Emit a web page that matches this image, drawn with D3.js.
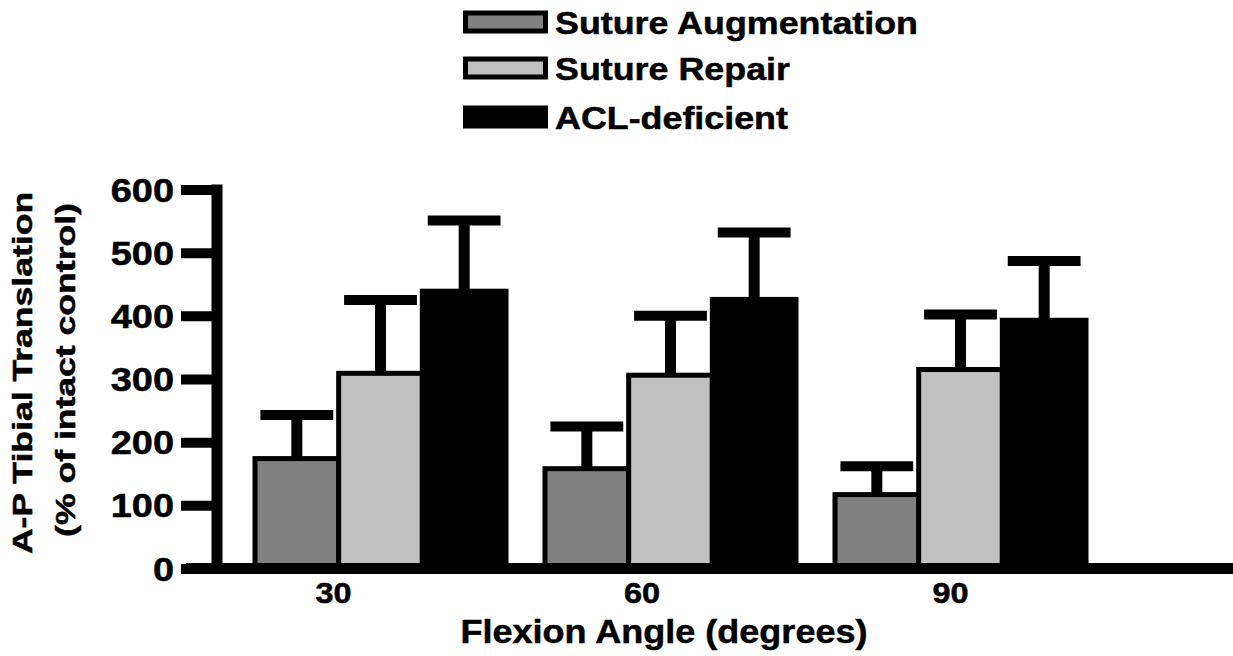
<!DOCTYPE html>
<html>
<head>
<meta charset="utf-8">
<script src="https://cdn.jsdelivr.net/npm/d3@7"></script>
<style>
  html, body { margin: 0; padding: 0; background: #ffffff; }
  svg { display: block; }
  text { font-family: "Liberation Sans", Arial, Helvetica, sans-serif; font-weight: bold; fill: #000; stroke: #000; stroke-width: 0.5px; }
</style>
</head>
<body>
<svg id="chart" width="1233" height="656"></svg>
<script>
// Flexion angles (x categories) and treatment groups
const categories = ["30", "60", "90"];
const series = ["Suture Augmentation", "Suture Repair", "ACL-deficient"];

// Mean A-P tibial translation (% of intact control) and SD per group
const meanAugmentation = [174, 158, 117];
const sdAugmentation   = [69, 67, 45];
const meanRepair       = [309, 306, 315];
const sdRepair         = [116, 94, 87];
const meanDeficient    = [439, 426, 393];
const sdDeficient      = [112, 106, 94];

const yTicks = [0, 100, 200, 300, 400, 500, 600];

const yTitle = ["A-P Tibial Translation", "(% of intact control)"];
const xTitle = "Flexion Angle (degrees)";

// Table of rows for drawing
const means = [meanAugmentation, meanRepair, meanDeficient];
const sds = [sdAugmentation, sdRepair, sdDeficient];
const rows = [];
categories.forEach((c, ci) => {
  series.forEach((s, si) => {
    rows.push({ category: c, series: s, mean: means[si][ci], sd: sds[si][ci] });
  });
});

const W = 1233, H = 656;
const svg = d3.select("#chart");

const y = d3.scaleLinear().domain([0, 600]).range([568.5, 189.5]);
const xGroup = d3.scaleBand().domain(categories).range([255, 1086]).paddingInner(0.1345).paddingOuter(0);
const xInner = d3.scaleBand().domain(series).range([0, xGroup.bandwidth()]).padding(0);
const xLabel = d3.scalePoint().domain(categories).range([333, 950]);
const fill = d3.scaleOrdinal().domain(series).range(["#808080", "#c0c0c0", "#000000"]);

const yAxisX = 217;

// Bars
const barX = d => xGroup(d.category) + xInner(d.series);
svg.append("g").attr("class", "bars")
  .selectAll("rect").data(rows).join("rect")
  .attr("x", barX)
  .attr("y", d => y(d.mean))
  .attr("width", xInner.bandwidth())
  .attr("height", d => y(0) - y(d.mean))
  .attr("fill", d => fill(d.series))
  .attr("stroke", "#000")
  .attr("stroke-width", 5);

// Error bars (upper only)
const eb = svg.append("g").attr("class", "errorbars");
const capW = xInner.bandwidth() * 0.87;
eb.selectAll("line.stem").data(rows).join("line")
  .attr("class", "stem")
  .attr("x1", d => barX(d) + xInner.bandwidth() / 2)
  .attr("x2", d => barX(d) + xInner.bandwidth() / 2)
  .attr("y1", d => y(d.mean))
  .attr("y2", d => y(d.mean + d.sd))
  .attr("stroke", "#000").attr("stroke-width", 11);
eb.selectAll("line.cap").data(rows).join("line")
  .attr("class", "cap")
  .attr("x1", d => barX(d) + xInner.bandwidth() / 2 - capW / 2)
  .attr("x2", d => barX(d) + xInner.bandwidth() / 2 + capW / 2)
  .attr("y1", d => y(d.mean + d.sd))
  .attr("y2", d => y(d.mean + d.sd))
  .attr("stroke", "#000").attr("stroke-width", 10);

// Y axis
const yAxisG = svg.append("g")
  .attr("transform", `translate(${yAxisX},0)`)
  .call(d3.axisLeft(y).tickValues(yTicks).tickSize(36).tickPadding(0));
yAxisG.select(".domain").remove();
yAxisG.selectAll(".tick line").attr("stroke", "#000").attr("stroke-width", 10);
const ySx = 1.15;
yAxisG.selectAll(".tick text")
  .attr("font-size", 33)
  .attr("x", -43 / ySx)
  .attr("dy", "0.35em")
  .attr("transform", `scale(${ySx},1)`);
svg.append("line")
  .attr("x1", yAxisX).attr("x2", yAxisX)
  .attr("y1", y(600) - 5).attr("y2", y(0))
  .attr("stroke", "#000").attr("stroke-width", 11);

// X axis baseline
svg.append("line")
  .attr("x1", yAxisX - 31).attr("x2", W)
  .attr("y1", y(0)).attr("y2", y(0))
  .attr("stroke", "#000").attr("stroke-width", 11);

// X tick labels
const xSx = 1.12;
const xAxisG = svg.append("g")
  .attr("transform", `translate(0,${y(0)})`)
  .call(d3.axisBottom(xLabel).tickSize(0));
xAxisG.select(".domain").remove();
xAxisG.selectAll(".tick text")
  .attr("font-size", 29)
  .attr("y", 35).attr("dy", 0)
  .attr("transform", `scale(${xSx},1)`);

// Axis titles
svg.append("text")
  .attr("text-anchor", "middle")
  .attr("font-size", 34)
  .attr("transform", "translate(664,643) scale(1.06,1)")
  .text(xTitle);

svg.selectAll("text.ytitle").data(yTitle).join("text")
  .attr("class", "ytitle")
  .attr("text-anchor", "middle")
  .attr("font-size", 28)
  .attr("transform", (d, i) => `translate(${i === 0 ? 32 : 75},${i === 0 ? 373 : 370}) rotate(-90) scale(1.27,1)`)
  .text(d => d);

// Legend
const legendRowY = [22, 68, 117];
const legend = svg.append("g").attr("class", "legend");
const lg = legend.selectAll("g").data(series).join("g")
  .attr("transform", (d, i) => `translate(0,${legendRowY[i]})`);
lg.append("rect")
  .attr("x", 465.5).attr("y", -9)
  .attr("width", 80).attr("height", 18)
  .attr("fill", d => fill(d))
  .attr("stroke", "#000").attr("stroke-width", 5);
lg.append("text")
  .attr("font-size", 32)
  .attr("transform", "translate(555,12) scale(1.12,1)")
  .text(d => d);
</script>
</body>
</html>
